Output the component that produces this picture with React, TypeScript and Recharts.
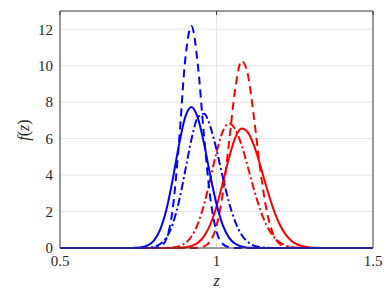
import React from 'react';
import { LineChart, Line, XAxis, YAxis, CartesianGrid, Label } from 'recharts';

// z sample points
const zGrid = [
  0.5, 0.7, 0.72, 0.74, 0.76, 0.78, 0.8, 0.82, 0.84, 0.86, 0.88, 0.9, 0.92, 0.94, 0.96, 0.98,
  1.0, 1.02, 1.04, 1.06, 1.08, 1.1, 1.12, 1.14, 1.16, 1.18, 1.2, 1.22, 1.24, 1.26, 1.28, 1.3,
  1.32, 1.34, 1.5,
];

// densities
const blueSolid = [
  0, 0, 0, 0.01, 0.04, 0.14, 0.4, 1.01, 2.11, 3.75, 5.64, 7.18, 7.74, 7.16, 5.74, 3.99,
  2.41, 1.26, 0.57, 0.23, 0.08, 0.02, 0.01, 0, 0, 0, 0, 0, 0, 0, 0, 0,
  0, 0, 0,
];
const blueDashed = [
  0, 0, 0, 0, 0, 0, 0.01, 0.08, 0.52, 2.12, 5.75, 10.31, 12.18, 10.12, 6.17, 2.77,
  0.91, 0.22, 0.04, 0, 0, 0, 0, 0, 0, 0, 0, 0, 0, 0, 0, 0,
  0, 0, 0,
];
const blueDashDot = [
  0, 0, 0, 0, 0, 0.02, 0.07, 0.22, 0.58, 1.31, 2.55, 4.23, 5.96, 7.16, 7.36, 6.67,
  5.39, 3.89, 2.5, 1.43, 0.73, 0.33, 0.13, 0.05, 0.02, 0, 0, 0, 0, 0, 0, 0,
  0, 0, 0,
];
const redSolid = [
  0, 0, 0, 0, 0, 0, 0, 0, 0, 0, 0.01, 0.04, 0.11, 0.28, 0.64, 1.28,
  2.27, 3.56, 4.94, 6.05, 6.55, 6.35, 5.61, 4.52, 3.32, 2.23, 1.36, 0.76, 0.39, 0.18, 0.08, 0.03,
  0.01, 0, 0,
];
const redDashed = [
  0, 0, 0, 0, 0, 0, 0, 0, 0, 0, 0, 0, 0, 0.02, 0.09, 0.37,
  1.2, 2.98, 5.78, 8.73, 10.27, 9.53, 7.11, 4.28, 2.07, 0.81, 0.25, 0.06, 0.01, 0, 0, 0,
  0, 0, 0,
];
const redDashDot = [
  0, 0, 0, 0, 0, 0, 0, 0, 0.01, 0.03, 0.1, 0.27, 0.63, 1.31, 2.37, 3.77,
  5.24, 6.39, 6.83, 6.51, 5.65, 4.46, 3.2, 2.09, 1.24, 0.67, 0.33, 0.15, 0.06, 0.02, 0.01, 0,
  0, 0, 0,
];

const xTicks = [0.5, 1, 1.5];
const yTicks = [0, 2, 4, 6, 8, 10, 12];

const data = zGrid.map((z, i) => ({
  z,
  blueSolid: blueSolid[i],
  blueDashed: blueDashed[i],
  blueDashDot: blueDashDot[i],
  redSolid: redSolid[i],
  redDashed: redDashed[i],
  redDashDot: redDashDot[i],
}));

const FONT = 'Liberation Serif, DejaVu Serif, serif';
const AXIS = '#404040';
const tickStyle = { fontSize: 15, fill: '#262626', style: { fontFamily: FONT } };
const DASH = '8 5';
const DASH_DOT = '8 3 2 3';

const YLabel = () => (
  <text
    x={25}
    y={130}
    transform="rotate(-90, 25, 130)"
    textAnchor="middle"
    dominantBaseline="middle"
    style={{ fontFamily: FONT, fontSize: 16 }}
    fill="#262626"
  >
    <tspan fontStyle="italic">f</tspan>
    <tspan>(</tspan>
    <tspan fontStyle="italic">z</tspan>
    <tspan>)</tspan>
  </text>
);

export default function App() {
  return (
    <div style={{ position: 'absolute', left: 0, top: 0, background: '#fff', fontFamily: FONT }}>
      <LineChart
        width={386}
        height={299}
        data={data}
        margin={{ top: 11, right: 13, bottom: 11, left: 0 }}
        style={{ fontFamily: FONT }}
      >
        <CartesianGrid stroke="#e3e3e3" strokeWidth={1} />
        <XAxis
          dataKey="z"
          type="number"
          domain={[0.5, 1.5]}
          ticks={xTicks}
          height={40}
          stroke={AXIS}
          tickLine={false}
          tickSize={0}
          tickMargin={7}
          tick={tickStyle}
        >
          <Label
            value="z"
            position="insideBottom"
            offset={2}
            style={{ fontFamily: FONT, fontSize: 16, fontStyle: 'italic', fill: '#262626' }}
          />
        </XAxis>
        <XAxis
          xAxisId="top"
          dataKey="z"
          type="number"
          orientation="top"
          mirror
          domain={[0.5, 1.5]}
          ticks={xTicks}
          stroke={AXIS}
          tickSize={4}
          tickFormatter={() => ''}
        />
        <YAxis
          domain={[0, 13]}
          ticks={yTicks}
          width={60}
          stroke={AXIS}
          tickLine={false}
          tickSize={0}
          tickMargin={7}
          tick={tickStyle}
          label={<YLabel />}
        />
        <YAxis
          yAxisId="right"
          orientation="right"
          mirror
          domain={[0, 13]}
          ticks={yTicks}
          stroke={AXIS}
          tickSize={4}
          tickFormatter={() => ''}
        />
        <Line type="monotone" dataKey="redSolid" stroke="#ff0000" strokeWidth={2} dot={false} isAnimationActive={false} />
        <Line type="monotone" dataKey="redDashed" stroke="#ff0000" strokeWidth={2} strokeDasharray={DASH} dot={false} isAnimationActive={false} />
        <Line type="monotone" dataKey="redDashDot" stroke="#ff0000" strokeWidth={2} strokeDasharray={DASH_DOT} dot={false} isAnimationActive={false} />
        <Line type="monotone" dataKey="blueSolid" stroke="#0000ff" strokeWidth={2} dot={false} isAnimationActive={false} />
        <Line type="monotone" dataKey="blueDashed" stroke="#0000ff" strokeWidth={2} strokeDasharray={DASH} dot={false} isAnimationActive={false} />
        <Line type="monotone" dataKey="blueDashDot" stroke="#0000ff" strokeWidth={2} strokeDasharray={DASH_DOT} dot={false} isAnimationActive={false} />
      </LineChart>
    </div>
  );
}
